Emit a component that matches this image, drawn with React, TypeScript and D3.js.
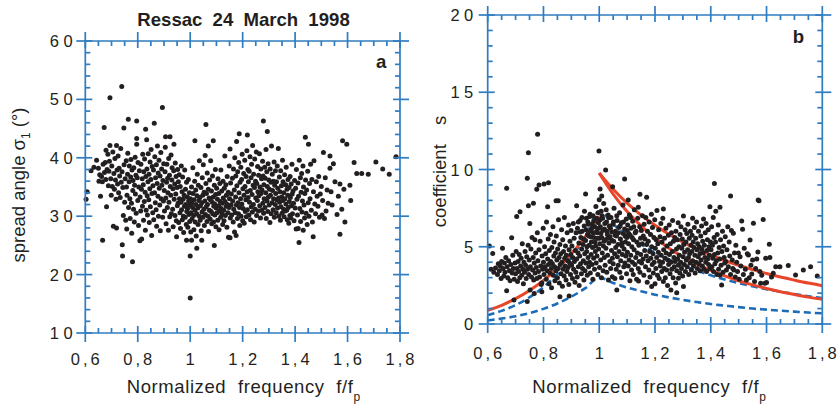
import React from "react";
import * as d3 from "d3";

const FONT = "'Liberation Sans', Arial, Helvetica, sans-serif";
const AXIS = "#2f7cc1";
const DOT = "#231f20";
const RED = "#e8462b";
const BLUE = "#1d6cb8";

const freqMajor = [0.6, 0.8, 1.0, 1.2, 1.4, 1.6, 1.8];
const freqLabels = ["0,6", "0,8", "1", "1,2", "1,4", "1,6", "1,8"];
const spreadMajor = [10, 20, 30, 40, 50, 60];
const coefMajor = [0, 5, 10, 15, 20];

type Pt = [number, number];

// Panel a: spread angle sigma_1 (deg) vs f/fp
const spreadPoints: Pt[] = [
[0.603,32.9],[0.607,34.2],[0.622,37.8],[0.633,38.4],[0.643,39.6],
[0.650,38.2],[0.652,36.0],[0.655,37.1],[0.658,33.4],[0.662,36.8],[0.665,35.9],[0.668,38.9],[0.672,45.2],[0.673,37.5],[0.676,39.2],[0.678,36.3],[0.679,41.3],[0.681,31.6],[0.683,38.0],[0.686,40.6],[0.688,35.2],[0.690,37.7],[0.692,39.4],[0.694,42.1],[0.694,50.3],[0.697,36.4],[0.699,33.6],[0.666,25.9],
[0.701,38.6],[0.703,35.1],[0.705,41.0],[0.707,28.3],[0.709,37.3],[0.711,34.6],[0.713,39.9],[0.715,36.2],[0.717,32.9],[0.719,42.1],[0.719,28.0],[0.721,37.9],[0.723,35.5],[0.725,40.3],[0.727,34.0],[0.729,38.2],[0.731,36.9],[0.733,33.2],[0.735,41.6],[0.737,35.8],[0.739,52.2],[0.740,37.6],[0.741,25.1],[0.742,23.2],[0.743,34.9],[0.745,30.1],[0.747,45.1],[0.748,38.8],[0.750,32.4],[0.752,36.4],[0.754,29.3],[0.756,39.5],[0.757,35.0],[0.758,27.8],[0.759,33.6],
[0.761,37.2],[0.762,40.8],[0.764,46.6],[0.765,31.5],[0.767,35.9],[0.768,38.6],[0.770,33.0],[0.771,29.6],[0.773,36.7],[0.774,39.7],[0.776,32.2],[0.777,27.1],[0.778,37.9],[0.780,22.2],[0.781,34.4],[0.782,36.1],[0.784,31.2],[0.785,38.3],[0.787,29.0],[0.788,35.3],[0.790,40.1],[0.791,33.8],[0.793,37.0],[0.794,30.5],[0.796,43.3],[0.796,42.3],[0.796,46.3],[0.798,36.6],[0.800,32.7],[0.801,39.2],[0.803,28.4],[0.804,35.0],[0.806,37.8],[0.808,25.8],[0.809,33.3],[0.811,30.9],[0.812,38.9],[0.814,34.6],[0.815,26.1],[0.817,36.4],[0.818,31.7],[0.819,40.6],
[0.821,35.4],[0.822,29.3],[0.823,37.6],[0.825,32.5],[0.826,39.8],[0.828,34.1],[0.829,27.6],[0.830,44.9],[0.831,36.8],[0.832,31.0],[0.834,43.1],[0.835,38.1],[0.836,33.5],[0.837,30.2],[0.839,35.9],[0.840,40.7],[0.842,32.8],[0.843,37.2],[0.844,28.9],[0.846,34.7],[0.847,39.3],[0.848,31.6],[0.850,36.3],[0.851,41.4],[0.853,26.7],[0.854,33.9],[0.855,38.5],[0.857,30.6],[0.858,35.2],[0.860,37.9],[0.861,29.4],[0.863,45.9],[0.864,34.0],[0.865,40.2],[0.867,32.3],[0.868,36.6],[0.870,31.1],[0.871,38.8],[0.872,28.3],[0.874,35.6],[0.875,42.0],[0.877,33.4],[0.878,37.4],[0.879,30.0],[0.881,39.6],[0.882,34.8],[0.884,31.9],[0.885,36.9],[0.886,27.5],[0.888,40.9],[0.889,33.0],[0.891,38.1],[0.892,35.3],[0.894,48.6],[0.895,29.8],[0.896,36.1],[0.898,32.6],[0.899,39.0],
[0.901,34.4],[0.902,30.9],[0.904,37.6],[0.905,41.8],[0.906,43.6],[0.907,33.1],[0.908,28.7],[0.910,35.8],[0.911,38.9],[0.913,31.5],[0.914,36.5],[0.915,34.0],[0.917,27.6],[0.918,39.9],[0.919,32.4],[0.921,37.0],[0.922,29.9],[0.923,43.6],[0.924,35.1],[0.926,33.6],[0.927,40.5],[0.928,30.4],[0.930,36.2],[0.931,38.3],[0.933,31.2],[0.934,34.7],[0.935,28.2],[0.937,37.8],[0.938,42.3],[0.939,32.9],[0.941,35.5],[0.942,30.1],[0.943,39.1],[0.945,33.8],[0.946,36.8],[0.947,29.2],[0.948,26.5],[0.950,34.9],[0.951,31.8],[0.952,38.0],[0.954,32.2],[0.955,35.9],[0.956,28.9],[0.958,37.1],[0.959,33.0],
[0.961,30.6],[0.962,35.1],[0.963,27.9],[0.965,32.4],[0.966,38.6],[0.967,31.1],[0.969,34.2],[0.970,29.4],[0.971,36.7],[0.973,32.9],[0.974,30.0],[0.975,27.2],[0.977,33.6],[0.978,31.7],[0.979,37.9],[0.981,29.8],[0.982,34.6],[0.983,32.0],[0.985,28.6],[0.986,25.9],[0.986,35.8],[0.987,30.8],[0.989,33.3],[0.990,31.3],[0.991,28.1],[0.993,36.3],[0.994,32.6],[0.995,30.3],[0.997,34.0],[0.998,29.1],[0.999,31.9],[1.000,16.0],[1.000,23.2],[1.001,33.0],[1.002,27.3],[1.003,30.6],[1.005,25.9],[1.005,35.0],[1.006,32.2],[1.007,29.5],[1.009,31.5],[1.010,38.3],[1.011,33.9],[1.013,30.1],[1.014,27.7],[1.015,32.8],[1.017,36.0],[1.018,42.9],[1.018,31.0],[1.019,29.0],[1.021,34.5],[1.022,32.0],[1.023,26.6],[1.025,24.5],[1.025,30.4],[1.026,33.5],[1.027,37.2],[1.029,31.4],[1.030,28.6],[1.031,35.3],[1.033,32.7],[1.034,30.0],[1.035,39.5],[1.037,33.2],[1.038,29.3],[1.039,31.8],
[1.041,34.9],[1.042,27.5],[1.044,25.9],[1.044,32.3],[1.045,30.7],[1.046,36.6],[1.048,33.6],[1.049,29.8],[1.050,38.8],[1.052,31.2],[1.053,34.1],[1.054,28.4],[1.056,32.6],[1.057,40.4],[1.058,30.3],[1.060,45.7],[1.060,35.6],[1.061,31.6],[1.062,33.9],[1.064,29.1],[1.065,37.4],[1.066,32.0],[1.068,30.0],[1.069,42.0],[1.069,34.6],[1.070,27.4],[1.072,33.1],[1.073,31.0],[1.074,36.2],[1.076,29.5],[1.077,32.8],[1.078,39.5],[1.080,30.8],[1.081,34.3],[1.082,28.7],[1.084,32.4],[1.085,36.9],[1.086,30.4],[1.088,42.9],[1.088,33.3],[1.089,29.0],[1.090,31.7],[1.092,25.0],[1.092,35.3],[1.093,32.1],[1.094,30.2],[1.096,38.0],[1.097,33.7],[1.098,28.2],[1.099,31.4],
[1.101,34.8],[1.102,30.6],[1.104,32.9],[1.105,29.3],[1.106,36.4],[1.108,31.8],[1.109,33.9],[1.110,27.7],[1.112,30.9],[1.113,35.6],[1.114,32.5],[1.116,29.8],[1.117,37.9],[1.118,31.3],[1.120,34.3],[1.121,30.4],[1.122,32.2],[1.124,28.6],[1.125,36.0],[1.126,33.1],[1.128,31.0],[1.129,29.2],[1.130,34.8],[1.132,40.3],[1.133,32.5],[1.134,30.1],[1.136,35.4],[1.137,31.7],[1.138,33.6],[1.140,28.1],[1.141,36.8],[1.142,32.0],[1.144,30.6],[1.145,34.1],[1.146,26.4],[1.148,31.5],[1.149,38.6],[1.150,33.0],[1.152,41.5],[1.152,26.3],[1.153,29.7],[1.154,35.7],[1.156,31.9],[1.157,33.8],[1.158,30.2],
[1.161,36.5],[1.162,32.6],[1.164,29.0],[1.165,38.1],[1.166,31.2],[1.168,34.5],[1.169,27.3],[1.170,40.0],[1.172,30.6],[1.173,33.3],[1.174,36.9],[1.175,26.7],[1.176,31.9],[1.177,42.8],[1.178,35.2],[1.180,29.6],[1.181,37.6],[1.182,32.3],[1.184,30.4],[1.185,39.2],[1.186,34.0],[1.187,44.1],[1.188,31.5],[1.189,28.4],[1.190,35.8],[1.192,33.0],[1.193,38.4],[1.194,30.0],[1.196,36.3],[1.197,32.1],[1.198,40.6],[1.200,29.2],[1.201,34.7],[1.202,31.3],[1.204,37.3],[1.205,33.6],[1.206,28.8],[1.208,39.6],[1.209,35.1],[1.210,30.8],[1.212,32.8],[1.213,36.8],[1.214,29.9],[1.216,41.2],[1.217,34.2],[1.218,43.9],[1.218,31.1],[1.220,38.0],
[1.221,33.2],[1.222,35.9],[1.224,30.2],[1.225,37.7],[1.226,32.4],[1.228,40.2],[1.229,34.4],[1.230,29.4],[1.232,36.6],[1.233,31.6],[1.234,38.9],[1.236,33.7],[1.237,30.7],[1.238,42.1],[1.240,35.3],[1.241,32.0],[1.242,37.2],[1.244,29.0],[1.245,34.9],[1.246,39.8],[1.248,31.2],[1.249,36.0],[1.250,33.1],[1.252,41.0],[1.253,30.1],[1.254,35.6],[1.256,32.7],[1.257,38.5],[1.258,34.2],[1.260,30.9],[1.261,37.0],[1.262,33.5],[1.264,40.7],[1.265,31.8],[1.266,35.0],[1.268,29.7],[1.269,38.1],[1.270,33.9],[1.272,36.4],[1.273,31.0],[1.274,34.5],[1.276,39.4],[1.277,32.2],[1.278,36.9],
[1.279,46.3],[1.280,30.5],[1.281,35.4],[1.282,33.0],[1.284,38.4],[1.285,31.5],[1.286,36.5],[1.288,34.0],[1.289,41.4],[1.290,29.6],[1.292,37.6],[1.293,32.6],[1.294,44.5],[1.294,35.1],[1.296,30.8],[1.297,39.0],[1.298,33.3],[1.300,36.2],[1.301,31.9],[1.302,34.6],[1.304,28.9],[1.305,38.1],[1.306,33.6],[1.308,35.8],[1.309,30.4],[1.310,42.0],[1.312,32.3],[1.313,37.2],[1.314,34.4],[1.316,31.1],[1.317,36.0],[1.318,33.0],[1.320,39.3],[1.321,29.8],[1.322,35.3],[1.324,32.0],[1.325,37.8],[1.326,33.9],[1.328,30.6],[1.329,35.9],[1.330,32.8],[1.332,38.6],[1.333,31.4],[1.334,34.8],[1.336,41.6],
[1.337,33.1],[1.338,30.0],[1.340,36.7],[1.341,32.4],[1.342,34.2],[1.344,29.3],[1.345,37.8],[1.346,31.6],[1.348,35.2],[1.349,33.3],[1.350,30.5],[1.352,39.6],[1.353,32.7],[1.354,35.9],[1.356,31.2],[1.357,34.0],[1.358,29.9],[1.360,37.1],[1.361,33.0],[1.362,30.9],[1.364,35.4],[1.365,32.1],[1.366,38.4],[1.368,31.0],[1.369,34.6],[1.370,29.4],[1.372,33.6],[1.373,36.3],[1.374,31.5],[1.376,28.8],[1.377,34.9],[1.378,32.5],[1.380,30.1],[1.381,36.8],[1.382,33.2],[1.384,29.7],[1.385,35.5],[1.386,31.8],[1.388,38.9],[1.389,33.8],[1.390,30.4],[1.392,34.3],[1.394,32.2],[1.396,29.2],[1.398,36.1],
[1.400,31.4],[1.402,34.8],[1.404,27.8],[1.405,38.0],[1.407,32.9],[1.409,30.2],[1.411,35.7],[1.412,27.9],[1.413,33.4],[1.415,25.5],[1.416,39.6],[1.418,31.3],[1.420,36.6],[1.421,29.1],[1.423,34.1],[1.425,37.3],[1.426,30.7],[1.428,32.6],[1.430,38.6],[1.431,27.6],[1.432,35.0],[1.434,31.9],[1.436,29.7],[1.437,33.9],[1.439,43.5],[1.440,36.2],[1.442,30.5],[1.444,34.5],[1.446,28.6],[1.448,37.7],[1.450,32.3],[1.451,42.3],[1.453,30.0],[1.455,35.6],[1.457,33.0],[1.459,38.9],
[1.462,31.0],[1.464,36.3],[1.466,29.0],[1.469,26.5],[1.470,34.2],[1.472,39.5],[1.475,32.1],[1.478,30.4],[1.481,35.9],[1.484,33.4],[1.487,31.7],[1.490,36.8],[1.493,29.8],[1.496,33.8],[1.500,35.1],[1.503,30.2],[1.505,32.7],[1.508,40.9],[1.512,29.6],[1.515,36.6],[1.518,30.9],
[1.522,34.5],[1.526,32.2],[1.533,40.3],[1.533,38.2],[1.537,34.2],[1.541,31.9],[1.546,39.0],[1.552,35.9],[1.560,30.3],[1.565,33.4],[1.571,35.5],[1.571,26.9],[1.578,31.2],[1.581,42.9],[1.586,34.6],[1.590,29.0],[1.597,42.3],
[1.609,35.3],[1.612,32.7],[1.625,39.2],[1.635,37.3],[1.654,37.3],[1.679,37.2],[1.708,39.3],[1.734,38.1],[1.759,37.2],[1.785,40.2],
];

// Panel b: coefficient s vs f/fp
const coefPoints: Pt[] = [
[0.606,5.05],[0.612,3.55],[0.618,4.57],[0.622,3.35],[0.628,3.62],[0.635,3.2],[0.638,3.9],
[0.642,3.45],[0.645,3.75],[0.648,2.95],[0.650,4.05],[0.653,4.90],[0.655,3.6],[0.658,3.1],[0.660,3.95],[0.662,3.35],[0.665,4.3],[0.668,2.16],[0.668,8.78],[0.670,3.7],[0.672,3.0],[0.675,4.1],[0.678,3.45],[0.680,2.8],[0.683,3.85],[0.686,5.59],[0.688,3.3],[0.690,4.45],[0.692,3.6],[0.694,1.55],[0.695,2.9],[0.698,3.95],
[0.700,3.25],[0.702,4.7],[0.704,6.95],[0.705,3.6],[0.707,2.75],[0.709,4.05],[0.711,3.4],[0.713,4.5],[0.715,3.0],[0.716,7.27],[0.718,3.75],[0.720,4.25],[0.722,3.15],[0.724,5.2],[0.726,3.55],[0.728,2.6],[0.730,4.0],[0.732,3.35],[0.734,4.7],[0.736,3.8],[0.738,2.95],[0.740,4.35],[0.742,9.43],[0.742,1.45],[0.743,3.55],[0.745,5.1],[0.746,11.09],[0.746,7.66],[0.747,3.2],[0.749,4.15],[0.751,6.5],[0.752,2.2],[0.753,3.7],[0.755,4.85],[0.757,3.05],[0.759,5.6],
[0.761,3.5],[0.763,4.3],[0.764,7.81],[0.765,2.85],[0.767,1.98],[0.767,3.95],[0.769,5.45],[0.770,3.3],[0.772,4.6],[0.774,3.65],[0.776,8.72],[0.776,2.95],[0.778,5.9],[0.779,12.28],[0.780,4.1],[0.782,3.4],[0.784,9.0],[0.784,4.8],[0.786,3.05],[0.788,5.35],[0.790,3.75],[0.792,2.55],[0.794,2.09],[0.794,2.65],[0.795,4.4],[0.797,3.55],[0.799,6.2],[0.800,4.0],[0.802,9.06],[0.802,3.2],[0.804,5.0],[0.806,3.7],[0.808,4.55],[0.810,2.9],[0.811,6.6],[0.813,3.45],[0.815,7.59],[0.815,4.2],[0.817,5.5],[0.818,9.15],[0.818,3.85],
[0.820,2.6],[0.821,4.75],[0.823,3.3],[0.825,5.8],[0.826,4.05],[0.828,3.6],[0.829,2.35],[0.830,4.95],[0.832,3.9],[0.834,6.3],[0.835,3.15],[0.837,4.4],[0.838,5.3],[0.840,3.7],[0.841,2.8],[0.843,4.6],[0.845,7.98],[0.845,3.45],[0.846,5.7],[0.848,4.15],[0.850,3.0],[0.851,4.85],[0.853,7.98],[0.853,3.6],[0.854,6.75],[0.856,4.3],[0.857,2.65],[0.859,1.77],[0.859,5.15],[0.860,3.85],[0.862,4.55],[0.863,3.25],[0.865,6.1],[0.866,4.0],[0.868,2.45],[0.869,5.45],[0.871,3.55],[0.872,4.7],[0.874,3.1],[0.875,6.9],[0.876,4.25],[0.878,3.75],[0.879,5.05],[0.881,2.85],[0.882,4.45],[0.884,3.4],[0.885,5.9],[0.887,4.1],[0.888,3.65],[0.890,6.4],[0.891,2.55],[0.892,1.81],[0.892,4.8],[0.894,3.95],[0.895,5.35],[0.897,3.2],[0.898,4.5],[0.899,6.05],
[0.901,3.8],[0.902,5.05],[0.904,2.95],[0.905,4.3],[0.907,6.5],[0.908,3.55],[0.910,5.55],[0.911,4.05],[0.913,2.7],[0.914,4.75],[0.916,3.35],[0.917,5.9],[0.919,7.66],[0.919,4.2],[0.921,3.05],[0.922,6.2],[0.924,4.6],[0.925,3.7],[0.927,5.25],[0.928,2.5],[0.930,4.4],[0.931,6.7],[0.933,3.9],[0.934,5.6],[0.936,3.25],[0.937,4.85],[0.939,6.0],[0.940,3.6],[0.942,5.15],[0.943,4.1],[0.945,2.85],[0.946,6.35],[0.948,4.55],[0.949,3.45],[0.951,8.41],[0.951,5.4],[0.952,3.95],[0.954,6.85],[0.955,4.7],[0.957,3.15],[0.958,5.8],[0.960,4.3],
[0.925,6.6],[0.932,5.95],[0.938,6.9],[0.944,5.5],[0.947,7.3],[0.953,6.1],[0.956,5.0],[0.959,6.6],[0.963,5.7],[0.966,6.95],[0.969,6.0],[0.972,5.3],[0.975,6.45],[0.978,7.0],[0.981,5.6],[0.984,6.3],[0.987,5.05],[0.990,6.85],[0.993,5.9],[0.996,7.2],[0.998,6.2],[1.000,5.55],[1.003,6.75],[1.006,5.85],[1.010,7.0],[1.013,6.05],[1.017,5.35],[1.020,6.5],[1.025,7.4],[1.028,6.0],[1.031,5.55],[1.034,6.9],[1.040,6.2],[1.046,5.4],[1.051,6.6],[1.057,5.75],[1.063,7.0],[1.069,5.9],[1.075,6.35],[1.081,5.25],[1.087,6.6],[1.093,5.7],[1.100,6.05],[1.106,5.85],[1.112,6.9],[1.118,5.6],[1.124,6.3],
[0.961,6.45],[0.962,3.7],[0.964,5.1],[0.965,4.0],[0.967,7.1],[0.968,3.3],[0.970,5.65],[0.971,4.5],[0.973,6.2],[0.974,3.85],[0.976,4.95],[0.977,2.9],[0.979,5.9],[0.980,4.25],[0.982,6.7],[0.983,3.55],[0.985,5.3],[0.986,4.7],[0.988,7.6],[0.989,3.95],[0.991,6.0],[0.992,4.4],[0.994,5.55],[0.995,3.2],[0.997,6.55],[0.998,4.85],[0.999,11.2],[1.000,8.05],[1.001,3.65],[1.002,5.2],[1.003,8.74],[1.004,6.3],[1.005,4.15],[1.007,7.3],[1.008,3.0],[1.009,8.28],[1.009,5.6],[1.011,4.6],[1.012,6.85],[1.014,3.45],[1.015,5.05],[1.016,7.8],[1.018,4.3],[1.019,6.15],[1.021,3.8],[1.022,5.45],[1.023,9.97],[1.024,4.9],[1.026,6.6],[1.027,3.35],[1.029,5.8],[1.030,4.45],[1.032,7.05],[1.033,2.85],[1.035,5.25],[1.036,6.35],[1.038,4.05],[1.039,5.65],
[1.041,3.6],[1.042,6.9],[1.044,4.75],[1.045,5.95],[1.047,3.06],[1.047,4.25],[1.048,8.89],[1.049,6.45],[1.050,3.9],[1.052,5.35],[1.053,7.5],[1.055,4.55],[1.056,2.95],[1.058,6.0],[1.059,4.95],[1.061,3.55],[1.062,5.7],[1.063,2.2],[1.064,6.7],[1.065,4.35],[1.067,5.15],[1.068,3.8],[1.070,6.25],[1.071,4.7],[1.073,7.2],[1.074,3.35],[1.076,5.5],[1.077,4.1],[1.079,6.55],[1.080,3.0],[1.082,5.05],[1.083,4.5],[1.085,7.7],[1.086,5.85],[1.088,3.7],[1.089,4.85],[1.091,9.39],[1.091,6.15],[1.092,3.95],[1.094,5.3],[1.095,4.4],[1.097,6.8],[1.098,3.25],[1.099,5.6],
[1.101,4.65],[1.102,6.4],[1.104,8.03],[1.104,3.75],[1.105,5.2],[1.107,4.15],[1.108,7.05],[1.110,2.8],[1.111,5.75],[1.113,4.45],[1.114,6.2],[1.116,3.5],[1.117,5.0],[1.119,4.0],[1.120,6.65],[1.122,3.2],[1.123,5.45],[1.125,4.8],[1.126,7.4],[1.128,3.85],[1.129,5.9],[1.131,4.3],[1.132,6.0],[1.134,2.9],[1.135,5.3],[1.137,4.6],[1.138,6.85],[1.140,7.55],[1.140,3.6],[1.141,2.78],[1.142,5.1],[1.143,4.05],[1.145,6.3],[1.146,8.39],[1.146,3.35],[1.148,5.55],[1.149,4.5],[1.151,6.05],[1.152,3.95],[1.154,5.2],[1.155,7.0],[1.157,4.2],[1.158,5.7],
[1.160,3.15],[1.161,6.45],[1.163,4.75],[1.164,5.5],[1.166,3.7],[1.167,6.9],[1.169,4.4],[1.170,8.2],[1.170,5.15],[1.172,2.7],[1.173,6.0],[1.175,4.1],[1.176,5.35],[1.178,3.5],[1.179,6.6],[1.181,4.7],[1.182,3.05],[1.184,5.8],[1.185,4.25],[1.187,7.1],[1.188,2.42],[1.188,5.0],[1.190,3.85],[1.191,6.25],[1.193,4.55],[1.194,3.3],[1.196,5.6],[1.197,4.0],[1.199,6.75],[1.200,2.6],[1.201,4.9],[1.203,3.6],[1.204,5.45],[1.206,4.3],[1.207,7.35],[1.209,3.15],[1.210,5.2],[1.212,4.65],[1.213,6.1],[1.215,2.95],[1.216,4.05],[1.218,5.65],[1.219,3.75],
[1.221,6.5],[1.222,4.45],[1.224,3.4],[1.225,5.3],[1.227,4.0],[1.228,6.85],[1.230,7.44],[1.230,2.75],[1.231,4.8],[1.233,3.6],[1.234,5.55],[1.236,4.25],[1.237,3.0],[1.239,6.2],[1.240,4.6],[1.242,3.5],[1.243,5.05],[1.245,2.5],[1.246,4.15],[1.248,5.75],[1.249,3.85],[1.251,6.4],[1.252,4.5],[1.254,3.25],[1.255,5.2],[1.257,2.2],[1.257,4.0],[1.259,5.9],[1.260,3.55],[1.262,4.7],[1.263,6.7],[1.265,3.0],[1.266,5.35],[1.268,4.3],[1.269,3.7],[1.271,5.6],[1.272,4.05],[1.274,2.65],[1.275,6.0],[1.277,4.85],[1.278,2.03],[1.278,3.45],
[1.280,5.45],[1.281,4.2],[1.283,6.55],[1.284,2.96],[1.284,3.8],[1.286,5.0],[1.287,4.45],[1.289,3.3],[1.290,5.8],[1.292,4.0],[1.293,6.3],[1.295,3.6],[1.296,4.9],[1.298,5.5],[1.299,3.1],[1.301,4.35],[1.302,6.99],[1.302,2.42],[1.303,5.15],[1.305,3.85],[1.306,4.65],[1.308,6.1],[1.309,3.4],[1.311,5.3],[1.312,4.15],[1.314,5.85],[1.315,3.7],[1.317,4.8],[1.318,6.45],[1.320,4.3],[1.321,3.2],[1.323,5.55],[1.324,4.55],[1.326,3.95],[1.327,6.0],[1.329,5.1],[1.330,3.5],[1.332,4.7],[1.333,5.75],[1.335,6.84],[1.335,4.1],[1.337,5.3],[1.338,3.75],
[1.340,4.95],[1.341,6.25],[1.343,4.45],[1.344,3.3],[1.346,5.55],[1.347,4.0],[1.349,6.6],[1.350,4.8],[1.352,3.6],[1.353,5.2],[1.355,4.35],[1.356,6.0],[1.358,3.9],[1.359,5.0],[1.361,4.55],[1.362,3.45],[1.364,5.7],[1.365,4.15],[1.367,6.35],[1.368,4.85],[1.370,3.75],[1.371,5.35],[1.373,4.6],[1.374,6.8],[1.376,3.55],[1.377,5.1],[1.379,4.3],[1.380,5.9],[1.382,4.0],[1.383,6.5],[1.385,3.4],[1.386,4.75],[1.388,5.45],[1.389,4.2],[1.391,6.1],[1.392,3.85],[1.394,5.0],[1.395,4.45],[1.397,7.59],[1.397,3.6],[1.399,5.3],
[1.401,4.8],[1.403,6.3],[1.404,3.7],[1.406,5.1],[1.407,4.25],[1.409,6.9],[1.410,3.4],[1.412,5.6],[1.413,9.1],[1.413,4.5],[1.415,3.9],[1.417,5.3],[1.418,7.3],[1.420,4.1],[1.422,3.2],[1.423,5.8],[1.425,4.6],[1.427,6.4],[1.428,3.55],[1.430,4.95],[1.432,4.2],[1.433,7.55],[1.433,3.17],[1.435,5.45],[1.437,3.8],[1.439,2.52],[1.440,4.7],[1.442,6.0],[1.444,3.35],[1.446,5.05],[1.448,4.3],[1.450,3.95],[1.452,5.65],[1.454,4.05],[1.456,3.5],[1.458,4.8],
[1.461,6.3],[1.463,3.7],[1.466,5.3],[1.468,4.4],[1.471,8.28],[1.471,3.2],[1.474,6.05],[1.477,4.15],[1.479,3.6],[1.481,5.87],[1.483,3.50],[1.485,4.6],[1.488,3.05],[1.490,5.1],[1.493,4.0],[1.496,3.4],[1.499,4.6],[1.502,2.9],[1.505,4.36],[1.508,3.75],[1.511,6.67],[1.514,6.13],[1.517,3.2],[1.520,4.9],
[1.524,3.55],[1.528,2.85],[1.531,4.55],[1.535,4.47],[1.538,3.0],[1.541,5.44],[1.544,3.8],[1.547,3.24],[1.550,4.15],[1.553,6.52],[1.557,2.75],[1.561,3.6],[1.565,4.21],[1.569,4.66],[1.570,8.03],[1.573,7.98],[1.576,3.4],[1.579,2.63],[1.583,3.15],[1.588,6.77],[1.594,2.63],[1.597,4.25],[1.600,2.68],
[1.610,5.16],[1.612,4.31],[1.618,3.05],[1.624,3.28],[1.633,3.71],[1.648,3.71],[1.678,3.78],[1.704,3.17],[1.732,3.50],[1.758,3.71],[1.782,3.11],
];

// Model curves in panel b
const lowFreqs = [0.6, 0.65, 0.7, 0.75, 0.8, 0.85, 0.9, 0.95, 1.0];
const highFreqs = [1.0, 1.05, 1.1, 1.15, 1.2, 1.25, 1.3, 1.35, 1.4, 1.45, 1.5, 1.55, 1.6, 1.65, 1.7, 1.75, 1.8];
const redLowS = [0.88, 1.21, 1.64, 2.17, 2.82, 3.6, 4.54, 5.66, 6.97];
const redHighAS = [9.77, 8.72, 7.82, 7.05, 6.39, 5.81, 5.3, 4.86, 4.46, 4.11, 3.8, 3.52, 3.27, 3.04, 2.84, 2.65, 2.48];
const redHighBS = [9.77, 8.41, 7.28, 6.35, 5.57, 4.91, 4.35, 3.88, 3.47, 3.11, 2.8, 2.53, 2.3, 2.09, 1.91, 1.74, 1.6];
const blueUpLowS = [0.57, 0.85, 1.23, 1.73, 2.39, 3.24, 4.31, 5.65, 7.3];
const blueUpHighS = [7.3, 6.46, 5.75, 5.15, 4.63, 4.18, 3.79, 3.45, 3.15, 2.88, 2.65, 2.44, 2.25, 2.09, 1.94, 1.8, 1.68];
const blueDnLowS = [0.23, 0.35, 0.5, 0.71, 0.98, 1.33, 1.77, 2.32, 3.0];
const blueDnHighS = [3.0, 2.66, 2.36, 2.12, 1.9, 1.72, 1.56, 1.42, 1.29, 1.19, 1.09, 1.0, 0.93, 0.86, 0.8, 0.74, 0.69];

const zip = (xs: number[], ys: number[]): Pt[] => xs.map((x, i) => [x, ys[i]]);

type Scale = d3.ScaleLinear<number, number>;

const Y_LS = 4.5;
const X_LS = 3;

function Frame({ x, y, yMajor, yMinorStep, yLabelRight, xLabelBaseline }: {
  x: Scale; y: Scale; yMajor: number[]; yMinorStep: number; yLabelRight: number; xLabelBaseline: number;
}) {
  const [xl, xr] = x.range();
  const [yb, yt] = y.range();
  const [d0, d1] = y.domain();
  const xMinor = d3.range(0, 25).map((i) => +(0.6 + i * 0.05).toFixed(2)).filter((v) => !freqMajor.some((m) => Math.abs(m - v) < 1e-6));
  const nY = Math.round((d1 - d0) / yMinorStep);
  const yMinor = d3.range(0, nY + 1).map((i) => d0 + i * yMinorStep).filter((v) => !yMajor.includes(v));
  const s = { stroke: AXIS, strokeWidth: 1.7 };
  const lines: JSX.Element[] = [];
  let k = 0;
  const L = (x1: number, y1: number, x2: number, y2: number) =>
    lines.push(<line key={k++} x1={x1} y1={y1} x2={x2} y2={y2} {...s} />);
  L(xl, yt, xr, yt); L(xl, yb, xr, yb); L(xl, yt, xl, yb); L(xr, yt, xr, yb);
  freqMajor.forEach((v) => { const X = x(v); L(X, yb - 7, X, yb + 9); L(X, yt - 9, X, yt + 7); });
  xMinor.forEach((v) => { const X = x(v); L(X, yb - 5, X, yb); L(X, yt, X, yt + 5); });
  yMajor.forEach((v) => { const Y = y(v); L(xl - 9, Y, xl + 7, Y); L(xr - 7, Y, xr + 9, Y); });
  yMinor.forEach((v) => { const Y = y(v); L(xl, Y, xl + 5, Y); L(xr - 5, Y, xr, Y); });
  return (
    <g>
      {lines}
      {yMajor.map((v) => (
        <text key={"yl" + v} x={yLabelRight + Y_LS} y={y(v) + 6} textAnchor="end" fontSize={16.5} letterSpacing={Y_LS} fill="#231f20" fontFamily={FONT}>{v}</text>
      ))}
      {freqMajor.map((v, i) => (
        <text key={"xl" + v} x={x(v) + X_LS / 2} y={xLabelBaseline} textAnchor="middle" fontSize={16.5} letterSpacing={X_LS} fill="#231f20" fontFamily={FONT}>{freqLabels[i]}</text>
      ))}
    </g>
  );
}

export default function App() {
  const xA = d3.scaleLinear().domain([0.6, 1.8]).range([85.3, 400]);
  const yA = d3.scaleLinear().domain([10, 60]).range([333, 41]);
  const xB = d3.scaleLinear().domain([0.6, 1.8]).range([487.7, 822.3]);
  const yB = d3.scaleLinear().domain([0, 20]).range([324, 15]);

  const lineB = d3.line<Pt>().x((d) => xB(d[0])).y((d) => yB(d[1])).curve(d3.curveMonotoneX);
  const blueUp = zip(lowFreqs, blueUpLowS).concat(zip(highFreqs, blueUpHighS).slice(1));
  const blueDn = zip(lowFreqs, blueDnLowS).concat(zip(highFreqs, blueDnHighS).slice(1));

  const txt = { fill: "#231f20", fontFamily: FONT };
  const R = 2.5;

  return (
    <svg width={840} height={407} style={{ position: "absolute", left: 0, top: 0, background: "#fff" }}>
      <rect x={0} y={0} width={840} height={407} fill="#fff" />
      {/* Panel a */}
      <g>
        {spreadPoints.map((p, i) => (
          <circle key={i} cx={xA(p[0])} cy={yA(p[1])} r={R} fill={DOT} />
        ))}
        <Frame x={xA} y={yA} yMajor={spreadMajor} yMinorStep={2} yLabelRight={72.7} xLabelBaseline={365} />
        <text x={137.3} y={26} fontSize={18.6} fontWeight="bold" wordSpacing={5} {...txt}>Ressac 24 March 1998</text>
        <text x={376} y={68.3} fontSize={18.6} fontWeight="bold" {...txt}>a</text>
        <text transform="translate(25,185) rotate(-90)" textAnchor="middle" fontSize={18.5} {...txt}>
          <tspan>spread angle σ</tspan>
          <tspan dy={5} fontSize={12}>1</tspan>
          <tspan dy={-5}> (°)</tspan>
        </text>
        <text x={126.7} y={392.7} fontSize={18.5} letterSpacing={0.6} wordSpacing={6} {...txt}>
          <tspan>Normalized frequency f/f</tspan>
          <tspan dy={8} fontSize={12}>p</tspan>
        </text>
      </g>
      {/* Panel b */}
      <g>
        <path d={lineB(blueUp) || ""} fill="none" stroke={BLUE} strokeWidth={2.6} strokeDasharray="7,4" />
        <path d={lineB(blueDn) || ""} fill="none" stroke={BLUE} strokeWidth={2.6} strokeDasharray="7,4" />
        <path d={lineB(zip(lowFreqs, redLowS)) || ""} fill="none" stroke={RED} strokeWidth={3} />
        <path d={lineB(zip(highFreqs, redHighAS)) || ""} fill="none" stroke={RED} strokeWidth={3} />
        <path d={lineB(zip(highFreqs, redHighBS)) || ""} fill="none" stroke={RED} strokeWidth={3} />
        {coefPoints.map((p, i) => (
          <circle key={i} cx={xB(p[0])} cy={yB(p[1])} r={R} fill={DOT} />
        ))}
        <Frame x={xB} y={yB} yMajor={coefMajor} yMinorStep={1} yLabelRight={473.3} xLabelBaseline={359} />
        <text x={792.7} y={42.7} fontSize={18.6} fontWeight="bold" {...txt}>b</text>
        <text transform="translate(446,171.5) rotate(-90)" textAnchor="middle" fontSize={18.5} wordSpacing={14} {...txt}>coefficient s</text>
        <text x={532.3} y={392.7} fontSize={18.5} letterSpacing={0.6} wordSpacing={6} {...txt}>
          <tspan>Normalized frequency f/f</tspan>
          <tspan dy={8} fontSize={12}>p</tspan>
        </text>
      </g>
    </svg>
  );
}
